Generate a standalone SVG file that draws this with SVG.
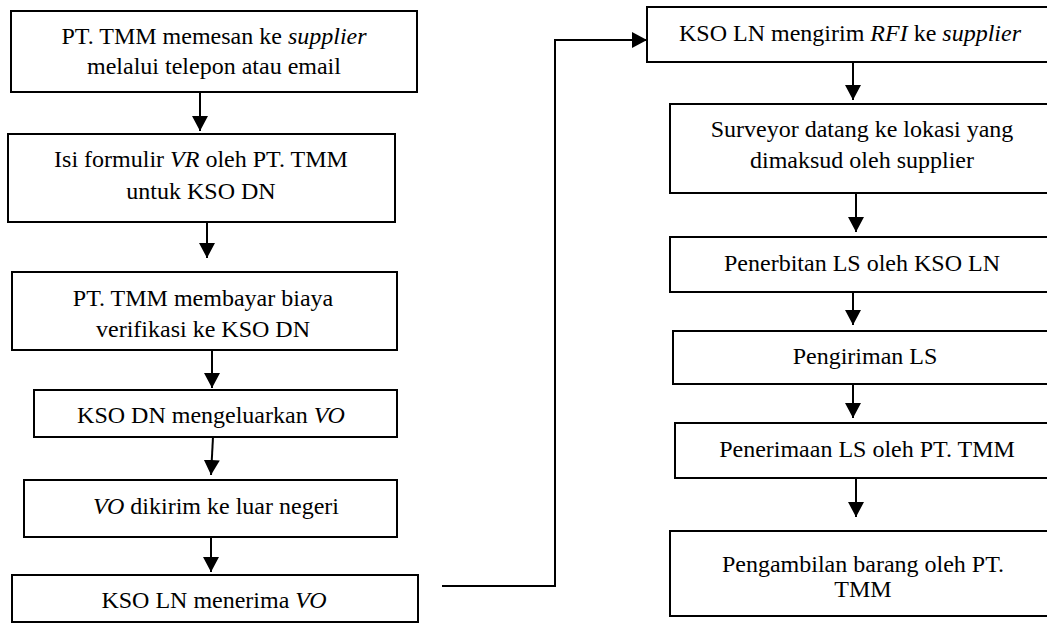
<svg xmlns="http://www.w3.org/2000/svg" width="1047" height="624" viewBox="0 0 1047 624">
<style>
.box{fill:#fff;stroke:#000;stroke-width:2}
.t{font-family:'Liberation Serif','Times New Roman',serif;font-size:24px;fill:#000;text-anchor:middle}
.i{font-style:italic}
.c{fill:none;stroke:#000;stroke-width:2}
</style>
<defs>
<marker id="ah" markerUnits="userSpaceOnUse" markerWidth="16" markerHeight="16" refX="15" refY="8" orient="auto">
<path d="M0,0 L15,8 L0,16 Z" fill="#000"/>
</marker>
</defs>
<rect width="1047" height="624" fill="#fff"/>
<g id="connectors">
<line class="c" x1="200" y1="92" x2="200" y2="131" marker-end="url(#ah)"/>
<line class="c" x1="207" y1="222" x2="207" y2="258" marker-end="url(#ah)"/>
<line class="c" x1="212" y1="350" x2="212" y2="388" marker-end="url(#ah)"/>
<line class="c" x1="213" y1="437" x2="211" y2="475" marker-end="url(#ah)"/>
<line class="c" x1="211" y1="537" x2="211" y2="572" marker-end="url(#ah)"/>
<polyline class="c" points="442,586 555,586 555,40 647,40" marker-end="url(#ah)"/>
<line class="c" x1="853" y1="62" x2="853" y2="100" marker-end="url(#ah)"/>
<line class="c" x1="856" y1="193" x2="856" y2="232" marker-end="url(#ah)"/>
<line class="c" x1="853" y1="292" x2="853" y2="325" marker-end="url(#ah)"/>
<line class="c" x1="853" y1="384" x2="853" y2="418" marker-end="url(#ah)"/>
<line class="c" x1="856" y1="478" x2="856" y2="517" marker-end="url(#ah)"/>
</g>
<g id="n1"><rect class="box" x="11" y="11" width="406" height="81"/>
<text class="t" x="214" y="44">PT. TMM memesan ke <tspan class="i">supplier</tspan></text>
<text class="t" x="214" y="74">melalui telepon atau email</text></g>
<g id="n2"><rect class="box" x="8" y="134" width="387" height="88"/>
<text class="t" x="201" y="167">Isi formulir <tspan class="i">VR</tspan> oleh PT. TMM</text>
<text class="t" x="201" y="199">untuk KSO DN</text></g>
<g id="n3"><rect class="box" x="12" y="272" width="385" height="78"/>
<text class="t" x="203" y="306">PT. TMM membayar biaya</text>
<text class="t" x="203" y="337">verifikasi ke KSO DN</text></g>
<g id="n4"><rect class="box" x="34" y="390" width="363" height="47"/>
<text class="t" x="211" y="423">KSO DN mengeluarkan <tspan class="i">VO</tspan></text></g>
<g id="n5"><rect class="box" x="24" y="480" width="373" height="57"/>
<text class="t" x="216" y="514"><tspan class="i">VO</tspan> dikirim ke luar negeri</text></g>
<g id="n6"><rect class="box" x="12" y="575" width="406" height="47"/>
<text class="t" x="214" y="608">KSO LN menerima <tspan class="i">VO</tspan></text></g>
<g id="r1"><rect class="box" x="647" y="7" width="410" height="55"/>
<text class="t" x="850" y="41">KSO LN mengirim <tspan class="i">RFI</tspan> ke <tspan class="i">supplier</tspan></text></g>
<g id="r2"><rect class="box" x="670" y="104" width="390" height="89"/>
<text class="t" x="862" y="137">Surveyor datang ke lokasi yang</text>
<text class="t" x="862" y="168">dimaksud oleh supplier</text></g>
<g id="r3"><rect class="box" x="670" y="237" width="390" height="55"/>
<text class="t" x="862" y="271">Penerbitan LS oleh KSO LN</text></g>
<g id="r4"><rect class="box" x="673" y="331" width="390" height="53"/>
<text class="t" x="865" y="364">Pengiriman LS</text></g>
<g id="r5"><rect class="box" x="675" y="423" width="390" height="55"/>
<text class="t" x="867" y="457">Penerimaan LS oleh PT. TMM</text></g>
<g id="r6"><rect class="box" x="670" y="531" width="390" height="85"/>
<text class="t" x="863" y="572">Pengambilan barang oleh PT.</text>
<text class="t" x="863" y="597">TMM</text></g>
</svg>
